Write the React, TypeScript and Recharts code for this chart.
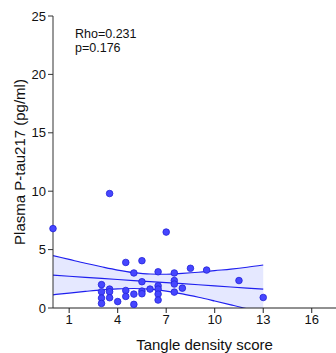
import {
  ComposedChart,
  Area,
  Line,
  Scatter,
  XAxis,
  YAxis,
} from 'recharts';

// observed points: tangle density score vs plasma P-tau217
const scoreX = [
  0, 3.5, 7, 4.5, 5.5, 5, 6.5, 7.5, 8.5, 9.5, 11.5, 13,
  5.5, 7.5, 7.5, 7.5, 8, 6.5, 6.5, 6.5, 6.5, 6, 5.5, 5.5,
  5, 5, 4.5, 4.5, 4, 3.5, 3.5, 3.5, 3, 3, 3, 3,
];
const ptauY = [
  6.8, 9.8, 6.5, 3.9, 4.05, 3.0, 3.1, 3.0, 3.4, 3.25, 2.35, 0.9,
  2.25, 2.35, 2.05, 1.36, 1.7, 1.9, 1.62, 1.19, 0.68, 1.62, 1.45, 1.22,
  1.19, 0.31, 1.5, 0.99, 0.55, 1.62, 1.39, 0.88, 2.0, 1.39, 0.85, 0.39,
];

// regression fit and 95% band, read at integer scores
const bandX = [0, 1, 2, 3, 4, 5, 6, 7, 8, 9, 10, 11, 12, 13];
const fitY = [2.81, 2.72, 2.63, 2.54, 2.44, 2.35, 2.26, 2.17, 2.08, 1.99, 1.9, 1.8, 1.71, 1.62];
const bandHi = [4.49, 4.16, 3.83, 3.53, 3.25, 3.03, 2.91, 2.89, 2.96, 3.06, 3.2, 3.33, 3.49, 3.68];
const bandLo = [1.13, 1.28, 1.42, 1.55, 1.63, 1.67, 1.61, 1.45, 1.21, 0.92, 0.6, 0.27, -0.07, -0.44];

const xTicks = [1, 4, 7, 10, 13, 16];
const yTicks = [0, 5, 10, 15, 20, 25];

const points = scoreX.map((x, i) => ({ x, y: ptauY[i] }));
const band = bandX.map((x, i) => ({
  x,
  fit: fitY[i],
  hi: bandHi[i],
  lo: bandLo[i],
  range: [bandLo[i], bandHi[i]],
}));

const BLUE = '#1f1fef';

function Dot(props: { cx?: number; cy?: number }) {
  const { cx, cy } = props;
  if (cx === undefined || cy === undefined) return null;
  return <circle cx={cx} cy={cy} r={3.3} fill="#4646ff" stroke="#2222d8" strokeWidth={0.8} />;
}

export default function App() {
  return (
    <div
      style={{
        position: 'absolute',
        left: 0,
        top: 0,
        width: 336,
        height: 353,
        background: '#fff',
        fontFamily: '"Liberation Sans", Arial, sans-serif',
      }}
    >
      <ComposedChart
        width={336}
        height={353}
        data={band}
        margin={{ top: 16, right: 0, left: 0, bottom: 0 }}
      >
        <XAxis
          type="number"
          dataKey="x"
          domain={[0, 17.5]}
          ticks={xTicks}
          tickSize={5}
          tick={{ fontSize: 13, fill: '#111' }}
          stroke="#222"
          height={45}
          label={{
            value: 'Tangle density score',
            position: 'insideBottom',
            offset: 3,
            dx: 10,
            fontSize: 15,
            fill: '#111',
          }}
        />
        <YAxis
          type="number"
          domain={[0, 25]}
          ticks={yTicks}
          allowDataOverflow
          tickSize={5}
          tick={{ fontSize: 13, fill: '#111' }}
          stroke="#333"
          width={53}
          label={{
            value: 'Plasma P-tau217 (pg/ml)',
            angle: -90,
            position: 'center',
            dx: -7,
            fontSize: 15,
            fill: '#111',
          }}
        />
        <Area
          dataKey="range"
          type="monotone"
          stroke="none"
          fill="#e5e8ff"
          fillOpacity={1}
          isAnimationActive={false}
        />
        <Line dataKey="hi" type="monotone" stroke={BLUE} strokeWidth={1.2} dot={false} isAnimationActive={false} />
        <Line dataKey="lo" type="monotone" stroke={BLUE} strokeWidth={1.2} dot={false} isAnimationActive={false} />
        <Line dataKey="fit" type="linear" stroke={BLUE} strokeWidth={1.2} dot={false} isAnimationActive={false} />
        <Scatter data={points} dataKey="y" shape={<Dot />} isAnimationActive={false} />
      </ComposedChart>
      <div
        style={{
          position: 'absolute',
          left: 75,
          top: 27,
          fontSize: 12.5,
          lineHeight: '14px',
          color: '#111',
        }}
      >
        <div>Rho=0.231</div>
        <div>p=0.176</div>
      </div>
    </div>
  );
}
